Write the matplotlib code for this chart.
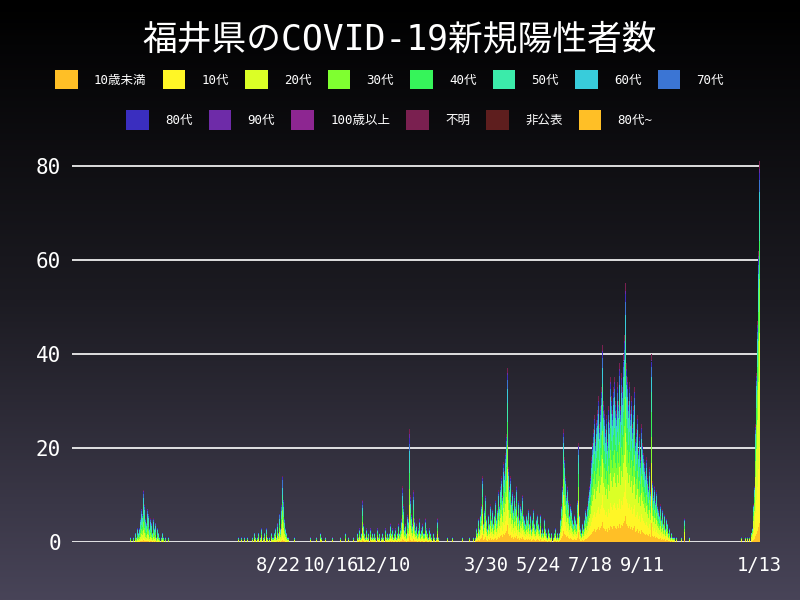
import numpy as np
import matplotlib
matplotlib.use("Agg")
import matplotlib.pyplot as plt
from matplotlib.patches import Patch
from matplotlib.colors import LinearSegmentedColormap
import datetime as dt

plt.rcParams['font.family'] = ['DejaVu Sans Mono', 'Noto Sans CJK JP', 'DejaVu Sans']

groups = ['10歳未満','10代','20代','30代','40代','50代','60代','70代','80代','90代','100歳以上','不明','非公表','80代~']
colors = ['#FFBF26','#FFF626','#DBFF26','#7FFF30','#36F45A','#3BEBAA','#38CCDB','#3B75D4',
          '#3A2EBF','#6E2BA8','#8D2691','#7A2050','#5E1E1E','#FFBF26']

wave1_start = dt.date(2020, 3, 18)
wave1 = [1,0,0,1,0,2,1,3,2,4,3,5,7,6,11,8,5,4,7,6,3,5,4,2,5,3,4,2,1,3,2,1,0,1,2,1,0,1,0,0,1,0]
wave2_start = dt.date(2020, 7, 10)
wave2 = [1,0,0,0,1,0,0,1,0,0,1,0,0,0,0,1,0,2,1,0,5,1,2,0,1,3,0,1,2,0,3,1,0,1,0,2,1,0,1,2,3,1,4,2,6,3,8,14,9,5,3,2,1,1,0,1,0,0,0,0,1]
wave3_start = dt.date(2020, 9, 25)
wave3 = [1,0,0,0,0,0,1,0,0,0,2,1,0,0,0,0,1,0,0,0,0,0,0,1,0,0,0,0,0,0,
         0,0,1,0,0,0,0,2,0,0,1,0,0,0,0,1,0,0,0,0,2,1,3,1,2,9,4,2,1,3,
         1,2,0,3,1,2,1,0,2,1,0,3,1,2,0,1,2,1,0,3,1,2,1,2,4,1,2,3,1,2,
         3,1,2,4,2,3,5,12,8,3,4,2,6,3,5,24,10,6,4,11,5,3,4,2,3,5,2,3,4,2,
         3,2,5,3,2,1,3,2,1,0,2,1,0,1,5,1,0,0,1]
wave4_start = dt.date(2021, 2, 15)
wave4 = [0,0,1,0,0,0,0,1,0,0,0,0,0,1,0,0,0,0,1,0,0,0,0,0,0,1,0,0,
         0,1,0,2,1,3,2,5,3,6,8,14,4,7,10,5,3,6,4,8,5,3,7,4,6,9,5,7,11,8,12,
         14,10,17,15,19,23,37,18,16,12,14,9,11,7,10,8,12,6,9,5,8,7,10,6,5,8,4,6,5,7,
         4,6,3,5,7,4,3,5,6,4,3,6,2,4,3,2,5,3,2,1,3,2,1,2,0,1,2,3,1,2,1,
         3,2,5,8,12,24,18,14,10,12,9,6,8,7,5,4,6,3,5,4,9,21,6,3,2,4,3,5,7,6,
         8,10,12,14,18,16,21,24,27,22,26,28,31,25,29,33,42,30,28,24,27,22,29,30,26,35,31,28,33,35,30,
         28,34,30,38,29,36,33,40,44,55,48,38,35,30,34,28,31,25,29,33,22,24,27,20,23,18,25,21,16,19,17,
         15,18,14,12,16,11,40,13,10,12,9,11,8,7,9,6,8,5,7,4,6,3,5,4,2,3,1,2,1,1,
         1,0,0,1,0,0,0,0,1,0,0,5,0,0,0,0,1]
wave5_start = dt.date(2021, 12, 25)
wave5 = [1,0,0,0,0,1,0,1,0,1,0,2,3,8,12,25,36,47,62,81]

share1 = [0.03,0.05,0.15,0.15,0.15,0.2,0.12,0.08,0.04,0.02,0.0,0.01,0.0,0.0]
share2 = [0.03,0.06,0.25,0.14,0.12,0.12,0.1,0.12,0.04,0.01,0.0,0.01,0.0,0.0]
share3 = [0.05,0.1,0.18,0.14,0.14,0.12,0.08,0.06,0.05,0.04,0.0,0.04,0.0,0.0]
share4 = [0.1,0.14,0.18,0.14,0.13,0.11,0.08,0.05,0.03,0.01,0.0,0.03,0.0,0.0]
share5 = [0.05,0.2,0.3,0.14,0.1,0.08,0.05,0.03,0.02,0.01,0.0,0.02,0.0,0.0]

waves = [(wave1_start, wave1, share1), (wave2_start, wave2, share2), (wave3_start, wave3, share3),
         (wave4_start, wave4, share4), (wave5_start, wave5, share5)]

fig = plt.figure(figsize=(8, 6), dpi=100)
bg = fig.add_axes([0, 0, 1, 1], zorder=-10)
grad = np.linspace(0, 1, 256).reshape(-1, 1)
cm = LinearSegmentedColormap.from_list('bg', ['#000000', '#1c1b22', '#484458'])
bg.imshow(grad, aspect='auto', cmap=cm, extent=[0, 1, 0, 1])
bg.axis('off')

fig.text(0.5, 0.935, '福井県のCOVID-19新規陽性者数', ha='center', va='center', color='white', fontsize=25)

ax = fig.add_axes([0.09, 0.0967, 0.86, 0.658])
ax.set_facecolor('none')
for start, vals, share in waves:
    dates = [start + dt.timedelta(days=i) for i in range(len(vals))]
    v = np.array(vals, dtype=float)
    bottom = np.zeros(len(v))
    for g, s in enumerate(share):
        if s == 0:
            continue
        h = v * s
        ax.bar(dates, h, bottom=bottom, width=1.0, color=colors[g], linewidth=0)
        bottom += h

ax.set_xlim(dt.date(2020, 1, 16), dt.date(2022, 1, 14))
ax.set_ylim(0, 84)
ax.set_yticks([0, 20, 40, 60, 80])
ax.yaxis.grid(True, color='white', linewidth=1.2)
ax.set_axisbelow(True)
tick_dates = [dt.date(2020,8,22), dt.date(2020,10,16), dt.date(2020,12,10), dt.date(2021,3,30),
              dt.date(2021,5,24), dt.date(2021,7,18), dt.date(2021,9,11), dt.date(2022,1,13)]
tick_labels = ['8/22','10/16','12/10','3/30','5/24','7/18','9/11','1/13']
ax.set_xticks(tick_dates)
ax.set_xticklabels(tick_labels)
ax.tick_params(axis='x', colors='white', labelsize=13.5, length=0, pad=10)
ax.tick_params(axis='y', colors='white', labelsize=15, length=0, pad=8)
for sp in ax.spines.values():
    sp.set_visible(False)

handles = [Patch(facecolor=c, label=l) for c, l in zip(colors, groups)]
kw = dict(loc='center', frameon=False, fontsize=9, labelcolor='white', handlelength=1.8,
          handleheight=2.0, columnspacing=1.3, handletextpad=1.3)
fig.legend(handles=handles[:8], bbox_to_anchor=(0.487, 0.867), ncol=8, **kw)
fig.legend(handles=handles[8:], bbox_to_anchor=(0.487, 0.8), ncol=6, **kw)

fig.savefig('out.png', dpi=100)
